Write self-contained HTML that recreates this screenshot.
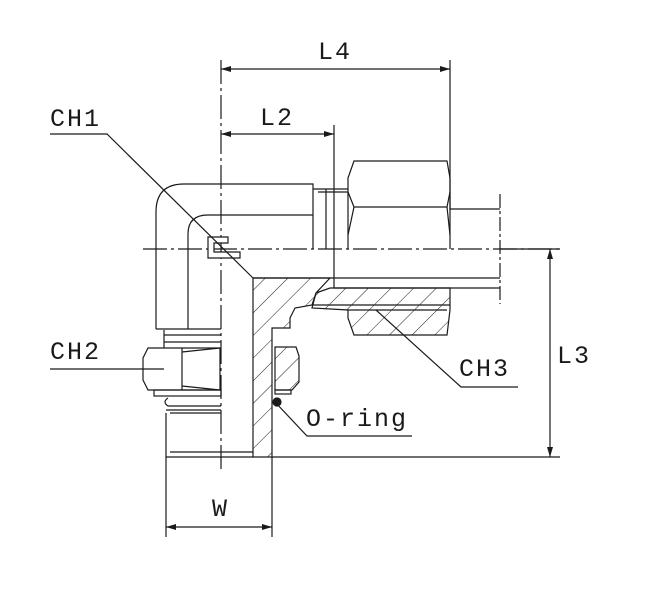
<!DOCTYPE html>
<html><head><meta charset="utf-8"><style>
html,body{margin:0;padding:0;background:#fff}
svg{display:block}
text{font-family:"Liberation Mono",monospace;font-size:25px;fill:#1a1a1a;letter-spacing:2px}
</style></head><body>
<svg width="649" height="600" viewBox="0 0 649 600" xmlns="http://www.w3.org/2000/svg">
<defs>
<marker id="a" viewBox="0 0 10 6" refX="10" refY="3" markerWidth="10" markerHeight="6" orient="auto-start-reverse" markerUnits="userSpaceOnUse"><path d="M0,0L10,3L0,6z" fill="#1a1a1a"/></marker>
<pattern id="h" patternUnits="userSpaceOnUse" width="16" height="16" patternTransform="rotate(45)"><line x1="0" y1="0" x2="0" y2="16" stroke="#1a1a1a" stroke-width="1"/></pattern>
</defs>
<g stroke="#1a1a1a" stroke-width="1.2" fill="none">
<line x1="221" y1="60" x2="221" y2="473" stroke-dasharray="24,4,3,4"/>
<line x1="143" y1="249" x2="560" y2="249" stroke-dasharray="24,4,3,4"/>
<line x1="221" y1="69" x2="450" y2="69" marker-start="url(#a)" marker-end="url(#a)"/>
<line x1="450" y1="60" x2="450" y2="210"/>
<line x1="221" y1="134" x2="334" y2="134" marker-start="url(#a)" marker-end="url(#a)"/>
<line x1="334" y1="125" x2="334" y2="288"/>
<line x1="550" y1="249" x2="550" y2="457" marker-start="url(#a)" marker-end="url(#a)"/>
<line x1="500" y1="249" x2="560" y2="249"/>
<line x1="272" y1="457" x2="560" y2="457"/>
<line x1="166" y1="527" x2="272" y2="527" marker-start="url(#a)" marker-end="url(#a)"/>
<line x1="166" y1="457" x2="166" y2="537"/>
<line x1="272" y1="457" x2="272" y2="537"/>
<path d="M156,329 L156,212 Q156,184 184,184 L313,184 L313,249"/>
<path d="M188,329 L188,234 Q188,215 208,215 L313,215"/>
<line x1="156" y1="329" x2="221" y2="329"/>
<path d="M313,189 L348,189 M326,189 L326,249 M318,192 L348,192"/>
<path d="M348,249 L348,178 L354,161 L447,161 L450,178 L450,249"/>
<path d="M348,192 L354,207 L447,207 L450,192"/>
<line x1="354" y1="207" x2="348" y2="235"/>
<line x1="447" y1="207" x2="450" y2="235"/>
<line x1="450" y1="209" x2="500" y2="209"/>
<line x1="500" y1="194" x2="500" y2="304" stroke-dasharray="14,3,3,3"/>
<line x1="253" y1="278" x2="500" y2="278"/>
<line x1="334" y1="288" x2="500" y2="288"/>
<path d="M253,278 L330,278 L316,293 L312,305 L295,308 L290,318 L290,328 L272,328 L272,457 L253,457 Z" fill="url(#h)"/>
<path d="M330,288 L450,288 L450,310 L447,335 L354,335 L348,318 L348,310 L312,308 L316,293 Z" fill="url(#h)"/>
<line x1="312" y1="305" x2="450" y2="305"/>
<line x1="348" y1="310" x2="447" y2="310"/>
<path d="M275,347 L296,347 L299,356 L299,382 L292,390 L275,390 Z" fill="url(#h)"/>
<rect x="275" y="390" width="16" height="4" />
<circle cx="277" cy="402" r="4" fill="#1a1a1a"/>
<path d="M164,330 L164,348 M164,342 L221,342 M164,335 L221,335"/>
<path d="M148,348 L220,348 L220,390 L148,390 L143,380 L143,358 Z"/>
<path d="M182,348 L182,390 M182,352 L220,348 M182,386 L220,390"/>
<rect x="154" y="390" width="67" height="6"/>
<path d="M168,398 Q162,402 168,406 L221,406 M166,410 L221,410"/>
<path d="M166,413 L166,457 L253,457 M170,413 L221,413 M170,452 L253,452"/>
<path d="M208,237 L228,237 L228,243 L214,243 L214,252 L240,252 L240,258 L208,258 Z" fill="#fff"/>
<path d="M50,134 L107,134 L253,278"/>
<path d="M50,369 L164,369"/>
<path d="M376,310 L461,387 L518,387"/>
<path d="M275,402 L307,436 L412,436"/>
</g>
<g>
<text x="318" y="59">L4</text>
<text x="260" y="125">L2</text>
<text x="50" y="126">CH1</text>
<text x="50" y="359">CH2</text>
<text x="459" y="376">CH3</text>
<text x="306" y="426">O-ring</text>
<text x="557" y="363">L3</text>
<text x="212" y="516">W</text>
</g>
</svg>
</body></html>
